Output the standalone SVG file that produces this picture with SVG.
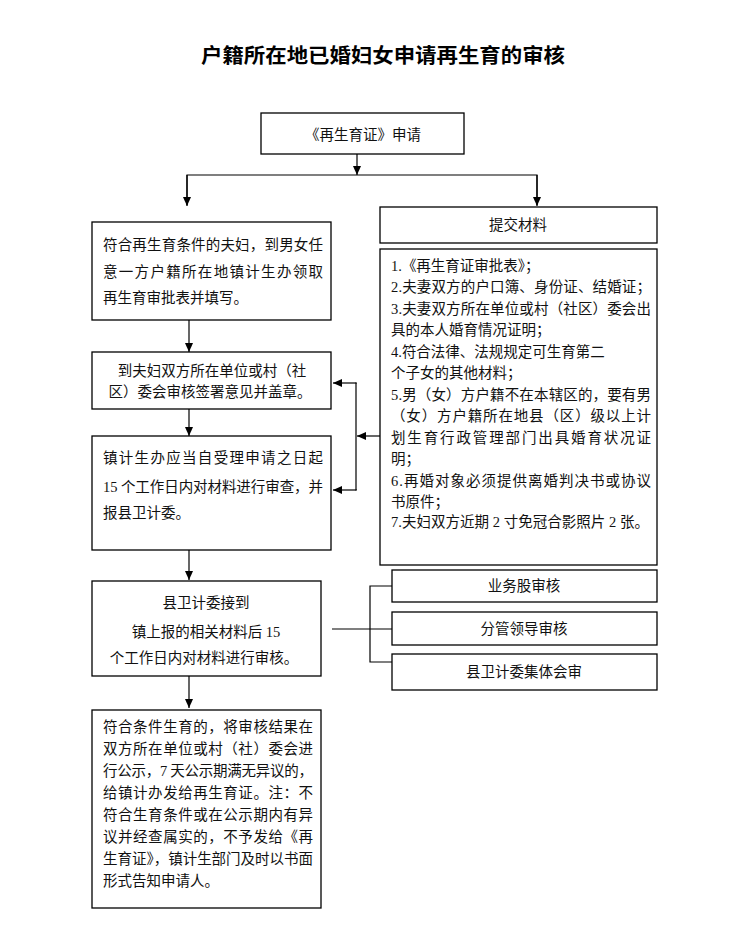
<svg xmlns="http://www.w3.org/2000/svg" width="737" height="940" viewBox="0 0 737 940">
<defs>
<marker id="ah" markerWidth="10" markerHeight="10" refX="9" refY="5" orient="auto" markerUnits="userSpaceOnUse">
<path d="M0,1 L9,5 L0,9 Z" fill="#000"/>
</marker>
<style>
.b{fill:#fff;stroke:#000;stroke-width:1.3}
.t{font-family:"Liberation Serif","Noto Sans CJK SC",serif;font-size:14.5px;fill:#111}
.c{text-anchor:middle}
.l{fill:none;stroke:#000;stroke-width:1.2}
.title{font-family:"Liberation Serif","Noto Sans CJK SC",serif;font-size:20px;font-weight:bold;text-anchor:middle;fill:#000}
</style>
</defs>
<rect width="737" height="940" fill="#fff"/>
<text class="title" x="383" y="63" textLength="364" lengthAdjust="spacingAndGlyphs">户籍所在地已婚妇女申请再生育的审核</text>

<g id="connectors">
<line class="l" x1="357" y1="154" x2="357" y2="175" marker-end="url(#ah)"/>
<polyline class="l" points="187,205 187,175 537,175 537,205"/>
<line class="l" x1="187" y1="175" x2="187" y2="206" marker-end="url(#ah)"/>
<line class="l" x1="537" y1="175" x2="537" y2="206" marker-end="url(#ah)"/>
<line class="l" x1="189" y1="320" x2="189" y2="352" marker-end="url(#ah)"/>
<line class="l" x1="189" y1="409" x2="189" y2="436" marker-end="url(#ah)"/>
<polyline class="l" points="357,383 356,383 356,490 357,490"/>
<line class="l" x1="356" y1="383" x2="333" y2="383" marker-end="url(#ah)"/>
<line class="l" x1="356" y1="490" x2="333" y2="490" marker-end="url(#ah)"/>
<line class="l" x1="380" y1="436" x2="357" y2="436" marker-end="url(#ah)"/>
<line class="l" x1="189" y1="550" x2="189" y2="580" marker-end="url(#ah)"/>
<line class="l" x1="189" y1="676" x2="189" y2="708" marker-end="url(#ah)"/>
<line class="l" x1="332" y1="629" x2="392" y2="629"/>
<polyline class="l" points="392,586 370,586 370,662 392,662"/>
</g>

<g id="n_apply">
<rect class="b" x="261" y="113" width="203" height="41"/>
<text class="t c" x="363" y="140">《再生育证》申请</text>
</g>

<g id="n_step1">
<rect class="b" x="92" y="222" width="239" height="98"/>
<text class="t" x="103" y="250" textLength="220" lengthAdjust="spacing">符合再生育条件的夫妇，到男女任</text>
<text class="t" x="103" y="277" textLength="220" lengthAdjust="spacing">意一方户籍所在地镇计生办领取</text>
<text class="t" x="103" y="303">再生育审批表并填写。</text>
</g>

<g id="n_submit">
<rect class="b" x="380" y="207" width="277" height="36"/>
<text class="t c" x="518" y="230">提交材料</text>
</g>

<g id="n_materials">
<rect class="b" x="380" y="249" width="277" height="316"/>
<text class="t" x="391" y="271">1.《再生育证审批表》；</text>
<text class="t" x="391" y="292" textLength="260" lengthAdjust="spacing">2.夫妻双方的户口簿、身份证、结婚证；</text>
<text class="t" x="391" y="314" textLength="260" lengthAdjust="spacing">3.夫妻双方所在单位或村（社区）委会出</text>
<text class="t" x="391" y="335">具的本人婚育情况证明；</text>
<text class="t" x="391" y="357">4.符合法律、法规规定可生育第二</text>
<text class="t" x="391" y="378">个子女的其他材料；</text>
<text class="t" x="391" y="400" textLength="260" lengthAdjust="spacing">5.男（女）方户籍不在本辖区的，要有男</text>
<text class="t" x="391" y="421" textLength="260" lengthAdjust="spacing">（女）方户籍所在地县（区）级以上计</text>
<text class="t" x="391" y="443" textLength="260" lengthAdjust="spacing">划生育行政管理部门出具婚育状况证</text>
<text class="t" x="391" y="464">明；</text>
<text class="t" x="391" y="486" textLength="260" lengthAdjust="spacing">6.再婚对象必须提供离婚判决书或协议</text>
<text class="t" x="391" y="507">书原件；</text>
<text class="t" x="391" y="527" textLength="258" lengthAdjust="spacing">7.夫妇双方近期 2 寸免冠合影照片 2 张。</text>
</g>

<g id="n_step2">
<rect class="b" x="92" y="352" width="239" height="57"/>
<text class="t c" x="212" y="376">到夫妇双方所在单位或村（社</text>
<text class="t c" x="210" y="397">区）委会审核签署意见并盖章。</text>
</g>

<g id="n_step3">
<rect class="b" x="92" y="436" width="239" height="114"/>
<text class="t" x="103" y="463" textLength="220" lengthAdjust="spacing">镇计生办应当自受理申请之日起</text>
<text class="t" x="103" y="492" textLength="220" lengthAdjust="spacing">15 个工作日内对材料进行审查，并</text>
<text class="t" x="103" y="518">报县卫计委。</text>
</g>

<g id="n_step4">
<rect class="b" x="92" y="581" width="229" height="95"/>
<text class="t c" x="206" y="608">县卫计委接到</text>
<text class="t c" x="206" y="637">镇上报的相关材料后 15</text>
<text class="t c" x="204" y="663">个工作日内对材料进行审核。</text>
</g>

<g id="n_r1">
<rect class="b" x="392" y="570" width="265" height="32"/>
<text class="t c" x="524" y="591">业务股审核</text>
</g>
<g id="n_r2">
<rect class="b" x="392" y="612" width="265" height="33"/>
<text class="t c" x="524" y="634">分管领导审核</text>
</g>
<g id="n_r3">
<rect class="b" x="392" y="654" width="265" height="36"/>
<text class="t c" x="524" y="677">县卫计委集体会审</text>
</g>

<g id="n_step5">
<rect class="b" x="92" y="710" width="229" height="198"/>
<text class="t" x="103" y="732" textLength="210" lengthAdjust="spacing">符合条件生育的，将审核结果在</text>
<text class="t" x="103" y="754" textLength="210" lengthAdjust="spacing">双方所在单位或村（社）委会进</text>
<text class="t" x="103" y="776" textLength="210" lengthAdjust="spacing">行公示，7 天公示期满无异议的，</text>
<text class="t" x="103" y="798" textLength="210" lengthAdjust="spacing">给镇计办发给再生育证。注：不</text>
<text class="t" x="103" y="820" textLength="210" lengthAdjust="spacing">符合生育条件或在公示期内有异</text>
<text class="t" x="103" y="842" textLength="210" lengthAdjust="spacing">议并经查属实的，不予发给《再</text>
<text class="t" x="103" y="864" textLength="210" lengthAdjust="spacing">生育证》，镇计生部门及时以书面</text>
<text class="t" x="103" y="886">形式告知申请人。</text>
</g>
</svg>
